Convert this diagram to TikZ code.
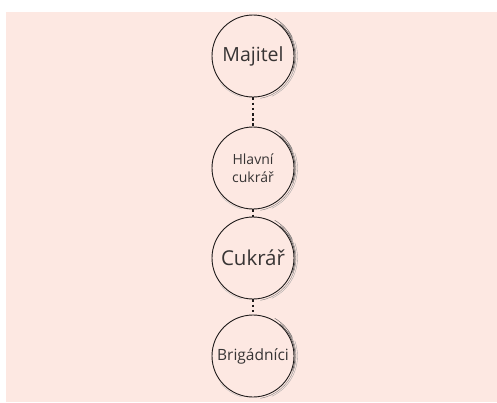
\documentclass[tikz,border=0pt]{standalone}
\usepackage{fontspec}
\setmainfont{Open Sans}
\definecolor{blush}{RGB}{253,232,226}
\definecolor{ink}{RGB}{30,26,26}
\definecolor{txt}{RGB}{55,52,52}
% faint extra brush strokes around a ring node
\newcommand\brushring[1]{%
  \draw[ink!55,line width=0.4pt] ([shift={(80:43)}]#1.center) arc (80:-35:43);
  \draw[ink!40,line width=0.35pt] ([shift={(65:44.5)}]#1.center) arc (65:-20:44.5);
  \draw[ink!75,line width=0.6pt] ([shift={(20:42)}]#1.center) arc (20:-50:42);
  \draw[ink!30,line width=0.3pt] ([shift={(140:42.5)}]#1.center) arc (140:105:42.5);
  \draw[ink!65,line width=0.45pt] ([shift={(-25:43.5)}]#1.center) arc (-25:-60:43.5);
}
\begin{document}
\begin{tikzpicture}[x=1pt,y=-1pt,
  ring/.style={circle,draw=ink,line width=0.9pt,minimum size=82pt,inner sep=0pt,
    text=txt,align=center},
  link/.style={draw=ink,line width=2.8pt,dash pattern=on 2.6pt off 2.6pt}]
  \useasboundingbox (0,0) rectangle (497,402);
  \fill[blush] (6,12) rectangle (497,402);
  \node[ring,font=\fontsize{19.5}{22}\selectfont] (m) at (253,56) {Majitel};
  \node[ring,font=\fontsize{14}{18}\selectfont] (h) at (253,168) {Hlavní\\cukrář};
  \node[ring,font=\fontsize{20.5}{24}\selectfont] (c) at (253,258) {Cukrář};
  \node[ring,font=\fontsize{15.5}{19}\selectfont] (b) at (253,356) {Brigádníci};
  \brushring{m}\brushring{h}\brushring{c}\brushring{b}
  \draw[link] (m.south) -- (h.north);
  \draw[link] (h.south) -- (c.north);
  \draw[link] (c.south) -- (b.north);
\end{tikzpicture}
\end{document}
